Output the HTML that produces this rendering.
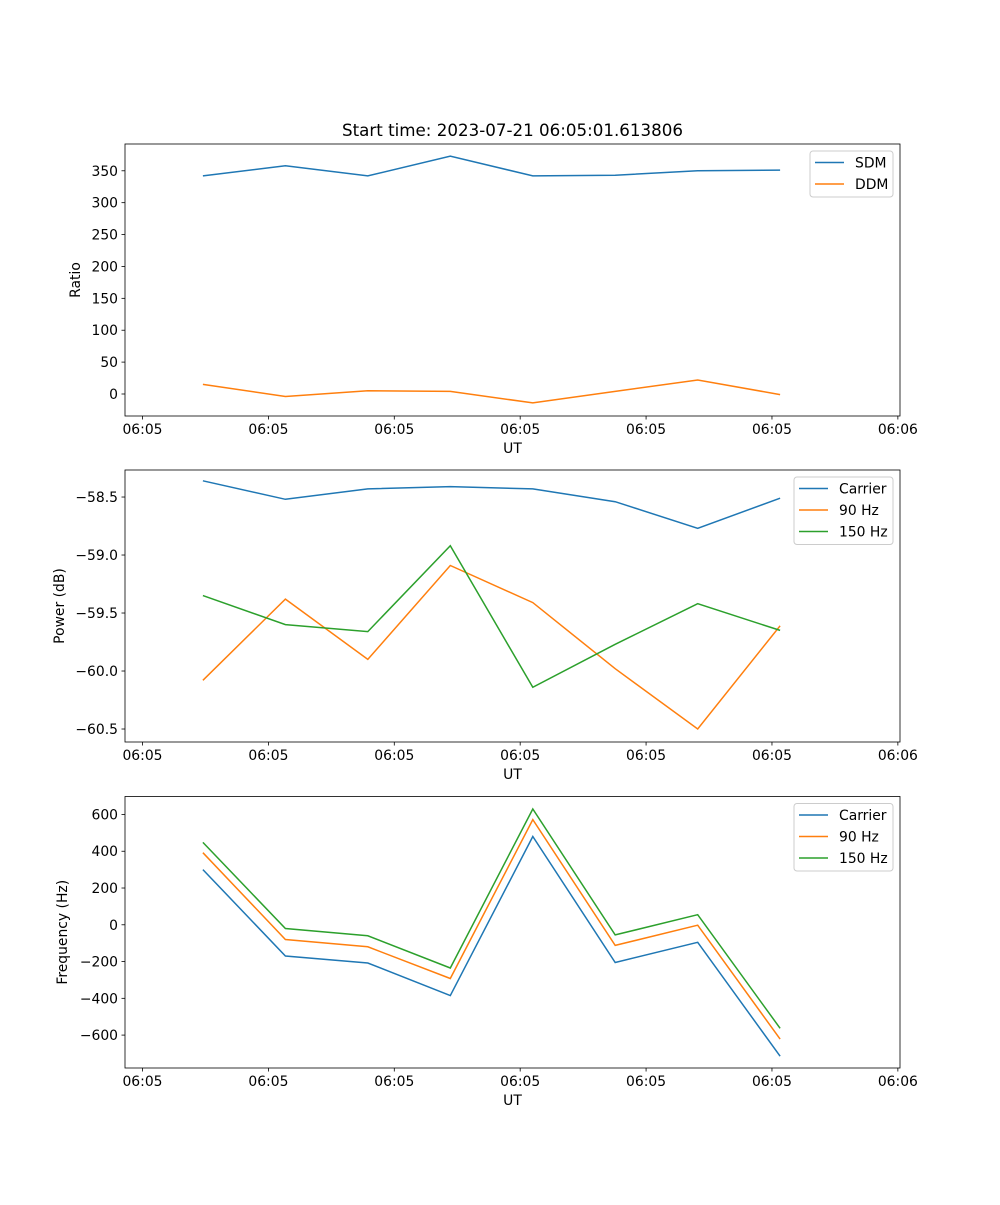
<!DOCTYPE html>
<html><head><meta charset="utf-8"><style>
html,body{margin:0;padding:0;background:#fff;}
svg text{font-family:"DejaVu Sans","Liberation Sans",sans-serif;fill:#000;}
</style></head><body>
<svg id="fig" width="1000" height="1200" xmlns="http://www.w3.org/2000/svg"></svg>
<script>
// Data (seconds after 06:05:00)
const times = [4.8, 11.35, 17.9, 24.45, 31.0, 37.55, 44.1, 50.65];
const xTickVals = [0, 10, 20, 30, 40, 50, 60];
const xTickLabels = ["06:05","06:05","06:05","06:05","06:05","06:05","06:06"];
const sdm = [342, 358, 342, 373, 342, 343, 350, 351];
const ddm = [15, -4, 5, 4, -14, 4, 22, -1];
const powCarrier = [-58.36, -58.52, -58.43, -58.41, -58.43, -58.54, -58.77, -58.51];
const pow90 = [-60.08, -59.38, -59.90, -59.09, -59.41, -59.98, -60.50, -59.61];
const pow150 = [-59.35, -59.60, -59.66, -58.92, -60.14, -59.77, -59.42, -59.65];
const freqCarrier = [300, -170, -208, -385, 480, -205, -95, -715];
const freq90 = [392, -80, -120, -292, 572, -112, -2, -622];
const freq150 = [448, -20, -60, -235, 630, -55, 55, -563];
const ticks1 = [0, 50, 100, 150, 200, 250, 300, 350];
const ticks2 = [-60.5, -60.0, -59.5, -59.0, -58.5];
const ticks2Labels = ["\u221260.5","\u221260.0","\u221259.5","\u221259.0","\u221258.5"];
const ticks3 = [-600, -400, -200, 0, 200, 400, 600];

const NS = "http://www.w3.org/2000/svg";
const svg = document.getElementById("fig");
function mk(tag, attrs, parent){const e=document.createElementNS(NS,tag);for(const k in attrs)e.setAttribute(k,attrs[k]);(parent||svg).appendChild(e);return e;}
const L=125,R=900,xmin=-1.39,xmax=60.17;
const xs=v=>L+(v-xmin)/(xmax-xmin)*(R-L);
const C={blue:"#1f77b4",orange:"#ff7f0e",green:"#2ca02c"};

function panel(name,top,bot,ymin,ymax,yt,ytl,ylabel,series,leg){
  const g=mk("g",{});
  
  
  const ys=v=>bot-(v-ymin)/(ymax-ymin)*(bot-top);
  series.forEach(s=>{
    const p=mk("polyline",{points:s.d.map((v,i)=>xs(times[i]).toFixed(1)+","+ys(v).toFixed(1)).join(" "),fill:"none",stroke:s.c,"stroke-width":1.5},g);
    
    
  });
  const fr=mk("rect",{x:L,y:top,width:R-L,height:bot-top,fill:"none",stroke:"#000","stroke-width":0.8},g);
  
  
  xTickVals.forEach((v,i)=>{
    const x=xs(v);
    mk("line",{x1:x,x2:x,y1:bot,y2:bot+3.5,stroke:"#000","stroke-width":0.8},g);
    const t=mk("text",{x:x,y:bot+18,"text-anchor":"middle","font-size":"13.9px"},g);
    t.textContent=xTickLabels[i];
    
    
  });
  yt.forEach((v,i)=>{
    const y=ys(v);
    mk("line",{x1:L,x2:L-3.5,y1:y,y2:y,stroke:"#000","stroke-width":0.8},g);
    const t=mk("text",{x:L-7,y:y+5,"text-anchor":"end","font-size":"13.9px"},g);
    t.textContent=ytl?ytl[i]:(v<0?"\u2212"+Math.abs(v):String(v));
    
    
  });
  const xl=mk("text",{x:(L+R)/2,y:bot+37,"text-anchor":"middle","font-size":"13.9px"},g);
  xl.textContent="UT";
  
  
  const cy=(top+bot)/2;
  const yl=mk("text",{x:leg.yx,y:cy,"text-anchor":"middle","font-size":"13.9px",transform:`rotate(-90 ${leg.yx} ${cy})`},g);
  yl.textContent=ylabel;
  
  
  const lg=mk("g",{},g);
  
  
  mk("rect",{x:leg.x,y:top+7,width:leg.w,height:series.length*21.5+3,rx:3,fill:"#fff",stroke:"#ccc","stroke-width":1,"fill-opacity":0.8},lg);
  series.forEach((s,i)=>{
    const y=top+18.5+i*21.5;
    mk("line",{x1:leg.x+5,x2:leg.x+34,y1:y,y2:y,stroke:s.c,"stroke-width":1.5},lg);
    const t=mk("text",{x:leg.x+45,y:y+5,"font-size":"13.9px"},lg);
    t.textContent=s.n;
    
    
  });
}
const title=mk("text",{x:512.5,y:136,"text-anchor":"middle","font-size":"16.7px"});
title.textContent="Start time: 2023-07-21 06:05:01.613806";



panel("ratio-panel",144,416,-34.5,392,ticks1,null,"Ratio",
  [{n:"SDM",d:sdm,c:C.blue},{n:"DDM",d:ddm,c:C.orange}],{x:810,w:83,yx:80});
panel("power-panel",470,742,-60.612,-58.267,ticks2,ticks2Labels,"Power (dB)",
  [{n:"Carrier",d:powCarrier,c:C.blue},{n:"90 Hz",d:pow90,c:C.orange},{n:"150 Hz",d:pow150,c:C.green}],{x:794,w:99,yx:64});
panel("frequency-panel",796.5,1068,-779,697.8,ticks3,null,"Frequency (Hz)",
  [{n:"Carrier",d:freqCarrier,c:C.blue},{n:"90 Hz",d:freq90,c:C.orange},{n:"150 Hz",d:freq150,c:C.green}],{x:794,w:99,yx:67});
</script>
</body></html>
